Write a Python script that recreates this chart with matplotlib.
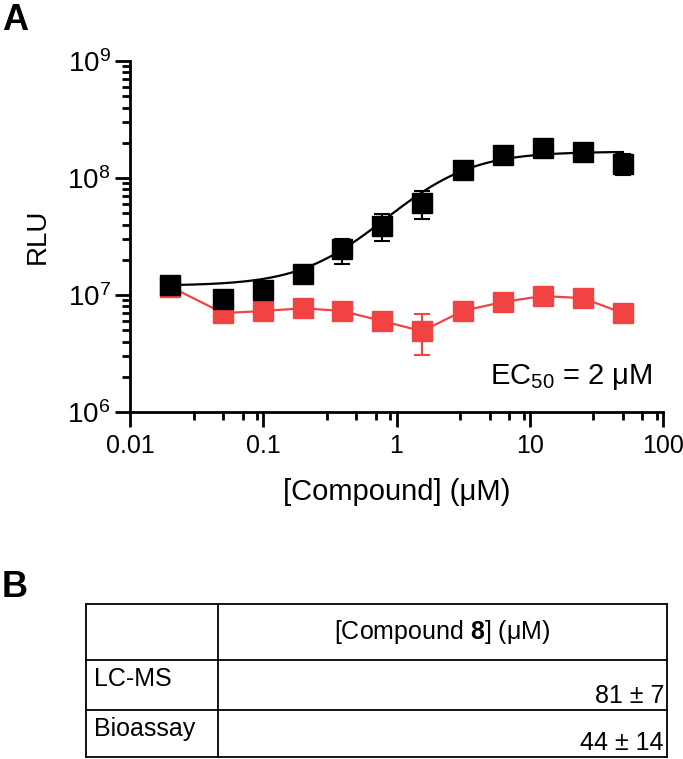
import matplotlib

matplotlib.use("Agg")
import matplotlib.pyplot as plt
import numpy as np
from matplotlib.ticker import FixedLocator, NullFormatter

plt.rcParams["font.family"] = ["Liberation Sans", "DejaVu Sans"]
plt.rcParams["mathtext.fontset"] = "custom"
plt.rcParams["mathtext.rm"] = "Liberation Sans"
plt.rcParams["mathtext.it"] = "Liberation Sans:italic"
plt.rcParams["mathtext.bf"] = "Liberation Sans:bold"

# concentrations (uM)
conc = [0.02, 0.05, 0.1, 0.2, 0.39, 0.78, 1.56, 3.13, 6.25, 12.5, 25, 50]

# black: compound response (RLU), mean and error bar ends
black_mean = [1.22e7, 9.2e6, 1.1e7, 1.52e7, 2.45e7, 3.9e7, 6.1e7, 1.18e8, 1.57e8, 1.82e8, 1.67e8, 1.32e8]
black_lo = [1.2e7, 9.0e6, 1.08e7, 1.48e7, 1.84e7, 2.9e7, 4.5e7, 9.8e7, 1.5e8, 1.75e8, 1.6e8, 1.07e8]
black_hi = [1.24e7, 9.4e6, 1.12e7, 1.56e7, 3.0e7, 4.9e7, 7.7e7, 1.38e8, 1.64e8, 1.9e8, 1.74e8, 1.6e8]

# red: control response
red_mean = [1.18e7, 7.0e6, 7.3e6, 7.7e6, 7.3e6, 6.0e6, 4.9e6, 7.3e6, 8.7e6, 9.8e6, 9.4e6, 7.0e6]
red_lo = [1.16e7, 6.8e6, 7.1e6, 7.5e6, 7.1e6, 5.8e6, 3.1e6, 7.1e6, 8.5e6, 9.6e6, 9.2e6, 6.3e6]
red_hi = [1.2e7, 7.2e6, 7.5e6, 7.9e6, 7.5e6, 6.2e6, 6.9e6, 7.5e6, 8.9e6, 10.0e6, 9.6e6, 7.6e6]

# four-parameter logistic fit for the black series
fit_bottom, fit_top, fit_ec50, fit_hill = 1.2e7, 1.68e8, 2.0, 1.5

xticks = [0.01, 0.1, 1, 10, 100]
xticklabels = ["0.01", "0.1", "1", "10", "100"]
yticks = [1e6, 1e7, 1e8, 1e9]
yticklabels = ["$10^{6}$", "$10^{7}$", "$10^{8}$", "$10^{9}$"]

table_header = r"[Compound $\mathbf{8}$] (μM)"
table_rows = ["LC-MS", "Bioassay"]
table_values = ["81 ± 7", "44 ± 14"]

black = "#000000"
red = "#F24343"

W, H = 683, 759
fig = plt.figure(figsize=(6.83, 7.59), dpi=100)
ax = fig.add_axes([130 / W, 1 - 412 / H, 533 / W, 351 / H])

ax.set_xscale("log")
ax.set_yscale("log")
ax.set_xlim(0.01, 100)
ax.set_ylim(1e6, 1e9)

# fitted curve
xfit = np.logspace(np.log10(conc[0]), np.log10(conc[-1]), 300)
yfit = fit_bottom + (fit_top - fit_bottom) / (1 + (fit_ec50 / xfit) ** fit_hill)
ax.plot(xfit, yfit, color=black, lw=1.6, zorder=3)

rm = np.array(red_mean)
ax.errorbar(conc, red_mean, yerr=[rm - np.array(red_lo), np.array(red_hi) - rm],
            fmt="s-", color=red, ms=14, lw=1.6, elinewidth=1.5, capsize=6,
            capthick=1.5, zorder=2)
bm = np.array(black_mean)
ax.errorbar(conc, black_mean, yerr=[bm - np.array(black_lo), np.array(black_hi) - bm],
            fmt="s", color=black, ms=14, elinewidth=1.5, capsize=6,
            capthick=1.5, zorder=4)

for s in ["top", "right"]:
    ax.spines[s].set_visible(False)
for s in ["left", "bottom"]:
    ax.spines[s].set_linewidth(2)

ax.xaxis.set_major_locator(FixedLocator(xticks))
ax.set_xticklabels(xticklabels)
xminor = [m * d for d in [0.01, 0.1, 1, 10] for m in [3, 5, 7, 9]]
ax.xaxis.set_minor_locator(FixedLocator(xminor))
ax.xaxis.set_minor_formatter(NullFormatter())
ax.yaxis.set_major_locator(FixedLocator(yticks))
ax.set_yticklabels(yticklabels)
yminor = [m * d for d in [1e6, 1e7, 1e8] for m in range(2, 10)]
ax.yaxis.set_minor_locator(FixedLocator(yminor))
ax.yaxis.set_minor_formatter(NullFormatter())
ax.tick_params(which="major", direction="out", length=11, width=2, pad=4)
ax.tick_params(axis="x", which="major", labelsize=18, pad=5)
ax.tick_params(axis="y", which="major", labelsize=20, pad=3)
ax.tick_params(which="minor", direction="out", length=6, width=2)

ax.set_xlabel("[Compound] (μM)", fontsize=21, labelpad=14)
ax.set_ylabel("RLU", fontsize=20, labelpad=12)

ax.text(0.98, 0.1, "EC$_{50}$ = 2 μM", transform=ax.transAxes,
        fontsize=21, ha="right", va="center")

fig.text(2 / W, 1 - 3 / H, "A", fontsize=26, fontweight="bold", va="top", ha="left")
fig.text(2 / W, 1 - 570 / H, "B", fontsize=26, fontweight="bold", va="top", ha="left")

# table in pixel coordinates
tax = fig.add_axes([0, 0, 1, 1])
tax.set_xlim(0, W)
tax.set_ylim(H, 0)
tax.axis("off")
left, mid, right = 86, 218, 667
rows_y = [604, 660, 710, 757]
lw = 1.3
for y in rows_y:
    tax.plot([left, right], [y, y], color="black", lw=lw)
for x in [left, mid, right]:
    tax.plot([x, x], [rows_y[0], rows_y[-1]], color="black", lw=lw)

tax.text((mid + right) / 2, (rows_y[0] + rows_y[1]) / 2, table_header,
         fontsize=18, ha="center", va="center")
for i, (name, val) in enumerate(zip(table_rows, table_values)):
    top, bot = rows_y[i + 1], rows_y[i + 2]
    tax.text(left + 8, top + 7, name, fontsize=18, ha="left", va="top")
    tax.text(right - 3, bot - 2, val, fontsize=18, ha="right", va="bottom")

plt.savefig("out.png", dpi=100)
